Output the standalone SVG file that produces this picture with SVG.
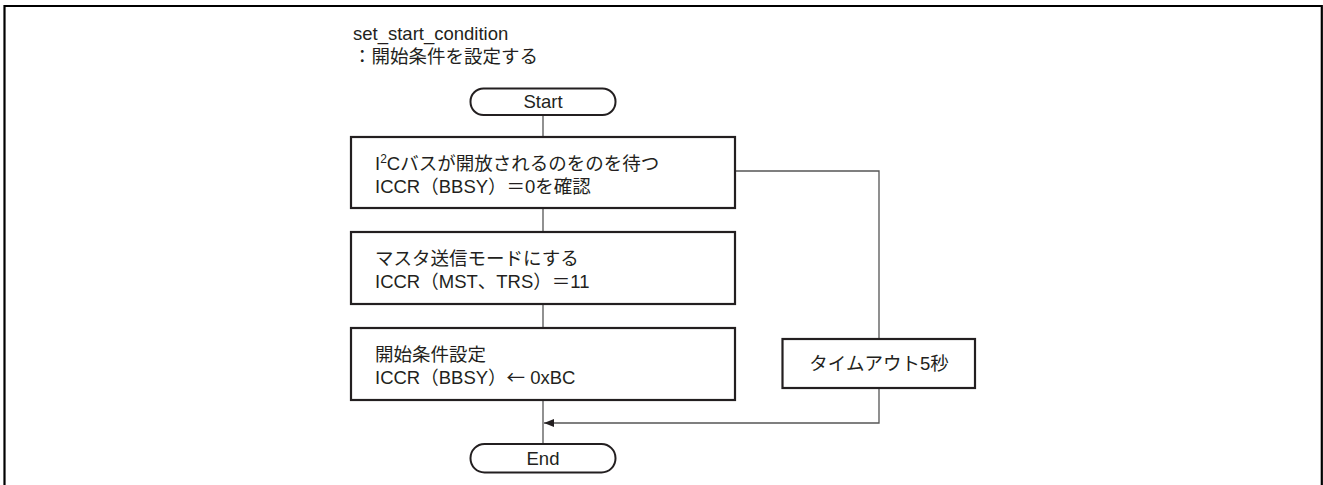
<svg xmlns="http://www.w3.org/2000/svg" width="1323" height="485" viewBox="0 0 1323 485">
<style>
text{font-family:"Liberation Sans","Noto Sans CJK JP",sans-serif;font-size:18.5px;fill:#231f20}
.cjk{font-family:"Noto Sans CJK JP",sans-serif}
.box{fill:#fff;stroke:#231f20;stroke-width:2.2}
.term{fill:#fff;stroke:#231f20;stroke-width:2}
.conn{fill:none;stroke:#555;stroke-width:1.3}
.mid{text-anchor:middle}
</style>
<defs>
<marker id="arr" viewBox="0 0 10 8" refX="10" refY="4" markerWidth="10" markerHeight="8" markerUnits="userSpaceOnUse" orient="auto">
<path d="M0,0 L10,4 L0,8 Z" fill="#231f20"/>
</marker>
</defs>
<rect width="1323" height="485" fill="#fff"/>
<path d="M4.5,485 V6 H1321.8 V485" fill="none" stroke="#000" stroke-width="2.2"/>
<g id="title">
<text x="353" y="40">set_start_condition</text>
<text x="353" y="63">：開始条件を設定する</text>
</g>
<g id="connectors">
<line class="conn" x1="543" y1="115" x2="543" y2="137"/>
<line class="conn" x1="543" y1="208" x2="543" y2="232"/>
<line class="conn" x1="543" y1="304" x2="543" y2="328"/>
<line class="conn" x1="543" y1="400" x2="543" y2="444"/>
<polyline class="conn" points="735,171 879,171 879,339"/>
<polyline class="conn" points="879,388 879,423 544,423" marker-end="url(#arr)"/>
</g>
<g id="start">
<rect class="term" x="470.5" y="88.5" width="145" height="26.5" rx="13" ry="13"/>
<text class="mid" x="543" y="108">Start</text>
</g>
<g id="box1">
<rect class="box" x="351" y="137" width="384" height="71"/>
<text x="375" y="170">I<tspan font-size="12" dy="-7">2</tspan><tspan dy="7">Cバスが開放されるのをのを待つ</tspan></text>
<text x="375" y="192.5">ICCR（BBSY）＝0を確認</text>
</g>
<g id="box2">
<rect class="box" x="351" y="232" width="384" height="72"/>
<text x="375" y="265">マスタ送信モードにする</text>
<text x="375" y="287.5">ICCR（MST、TRS）＝11</text>
</g>
<g id="box3">
<rect class="box" x="351" y="328" width="384" height="72"/>
<text x="375" y="361">開始条件設定</text>
<text x="375" y="383.5">ICCR（BBSY）<tspan class="cjk">←</tspan> 0xBC</text>
</g>
<g id="timeout">
<rect class="box" x="782.5" y="339" width="192.5" height="49"/>
<text class="mid" x="879" y="370">タイムアウト5秒</text>
</g>
<g id="end">
<rect class="term" x="470.5" y="444" width="145" height="28.5" rx="14" ry="14"/>
<text class="mid" x="543" y="465">End</text>
</g>
</svg>
